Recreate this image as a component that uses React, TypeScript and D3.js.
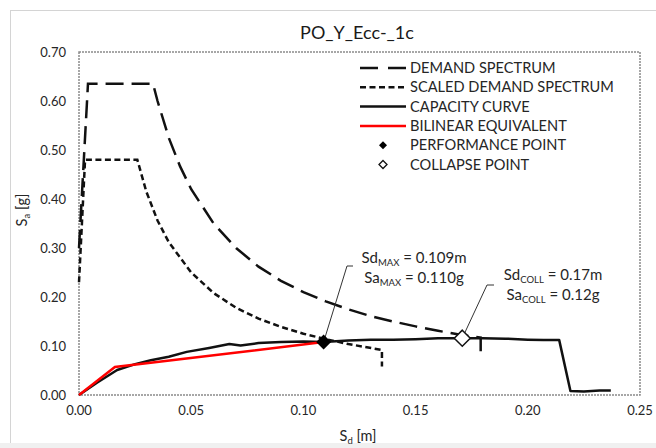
import React from 'react';
import * as d3 from 'd3';

// Values (Sd in m, Sa in g)
const demandSd = [0, 0.004, 0.033, 0.035, 0.04, 0.045, 0.05, 0.06, 0.07, 0.08, 0.09, 0.1, 0.11, 0.12, 0.13, 0.14, 0.15, 0.16, 0.17, 0.179, 0.179];
const demandSa = [0.3, 0.635, 0.635, 0.6, 0.525, 0.467, 0.42, 0.35, 0.3, 0.262, 0.233, 0.21, 0.191, 0.175, 0.161, 0.15, 0.14, 0.131, 0.123, 0.117, 0.078];

const scaledSd = [0, 0.0027, 0.026, 0.03, 0.035, 0.04, 0.05, 0.06, 0.07, 0.08, 0.09, 0.1, 0.11, 0.12, 0.135, 0.135];
const scaledSa = [0.23, 0.48, 0.48, 0.415, 0.356, 0.312, 0.25, 0.208, 0.178, 0.156, 0.139, 0.125, 0.114, 0.104, 0.092, 0.058];

const capacitySd = [0, 0.008, 0.017, 0.025, 0.032, 0.04, 0.048, 0.058, 0.067, 0.072, 0.08, 0.09, 0.1, 0.109, 0.12, 0.13, 0.14, 0.15, 0.16, 0.17, 0.18, 0.19, 0.2, 0.207, 0.214, 0.219, 0.225, 0.232, 0.237];
const capacitySa = [0, 0.025, 0.051, 0.063, 0.071, 0.078, 0.088, 0.096, 0.104, 0.101, 0.106, 0.108, 0.109, 0.108, 0.111, 0.113, 0.113, 0.114, 0.116, 0.116, 0.116, 0.115, 0.113, 0.112, 0.112, 0.008, 0.007, 0.009, 0.009];

const bilinearSd = [0, 0.016, 0.109];
const bilinearSa = [0, 0.057, 0.108];

const performancePoint = [0.109, 0.108];
const collapsePoint = [0.1708, 0.116];

const xTicks = [0, 0.05, 0.1, 0.15, 0.2, 0.25];
const yTicks = [0, 0.1, 0.2, 0.3, 0.4, 0.5, 0.6, 0.7];

const legendItems = [
  { label: 'DEMAND SPECTRUM', kind: 'long' },
  { label: 'SCALED DEMAND SPECTRUM', kind: 'short' },
  { label: 'CAPACITY CURVE', kind: 'solid' },
  { label: 'BILINEAR EQUIVALENT', kind: 'red' },
  { label: 'PERFORMANCE POINT', kind: 'filled' },
  { label: 'COLLAPSE POINT', kind: 'open' },
];

const W = 656;
const H = 448;
const FONT = 'Lato, "Open Sans", sans-serif';
const TXT = '#262626';

const zip = (xs: number[], ys: number[]) => xs.map((x, i) => [x, ys[i]] as [number, number]);

function diamond(cx: number, cy: number, r: number) {
  return `M${cx},${cy - r}L${cx + r},${cy}L${cx},${cy + r}L${cx - r},${cy}Z`;
}

export default function App() {
  const x = d3.scaleLinear().domain([0, 0.25]).range([79, 640]);
  const y = d3.scaleLinear().domain([0, 0.7]).range([395, 52]);
  const line = d3.line<[number, number]>().x(d => x(d[0])).y(d => y(d[1]));

  const pp = [x(performancePoint[0]), y(performancePoint[1])];
  const cp = [x(collapsePoint[0]), y(collapsePoint[1])];

  return (
    <div style={{ position: 'fixed', left: 0, top: 0 }}>
      <svg width={W} height={H} style={{ display: 'block', fontFamily: FONT }}>
        <rect width={W} height={H} fill="#fff" />
        <rect x={0} y={443} width={W} height={5} fill="#f0f0f0" />
        <line x1={10.5} y1={10} x2={10.5} y2={443} stroke="#d4d4d4" />
        <line x1={10} y1={10.5} x2={W} y2={10.5} stroke="#d4d4d4" />

        <text x={357} y={39} textAnchor="middle" fontSize={18} fill="#1a1a1a">PO_Y_Ecc-_1c</text>

        {/* plot border */}
        <rect x={x(0)} y={y(0.7)} width={x(0.25) - x(0)} height={y(0) - y(0.7)}
          fill="none" stroke="#8a8a8a" strokeWidth={1.5} strokeDasharray="2 1" />

        {yTicks.map(t => (
          <text key={t} x={66} y={y(t) + 4.5} textAnchor="end" fontSize={13} fill={TXT}>{t.toFixed(2)}</text>
        ))}
        {xTicks.map(t => (
          <text key={t} x={x(t)} y={415} textAnchor="middle" fontSize={13} fill={TXT}>{t.toFixed(2)}</text>
        ))}

        <text x={358} y={441} textAnchor="middle" fontSize={14.5} fill={TXT}>
          S<tspan fontSize={9.5} dy={3}>d</tspan><tspan dy={-3}> [m]</tspan>
        </text>
        <text transform="translate(27,210) rotate(-90)" textAnchor="middle" fontSize={14.5} fill={TXT}>
          S<tspan fontSize={9.5} dy={3}>a</tspan><tspan dy={-3}> [g]</tspan>
        </text>

        {/* series */}
        <path d={line(zip(demandSd, demandSa)) || ''} fill="none" stroke="#111" strokeWidth={2.5} strokeDasharray="18 8" />
        <path d={line(zip(scaledSd, scaledSa)) || ''} fill="none" stroke="#111" strokeWidth={2.5} strokeDasharray="6 3.5" />
        <path d={line(zip(capacitySd, capacitySa)) || ''} fill="none" stroke="#111" strokeWidth={2.5} strokeLinejoin="round" />
        <path d={line(zip(bilinearSd, bilinearSa)) || ''} fill="none" stroke="#ff0000" strokeWidth={2.5} />

        {/* annotations */}
        <polyline points={`${pp[0]},${pp[1]} 347,266 353,266`} fill="none" stroke="#333" strokeWidth={1} />
        <polyline points={`${cp[0]},${cp[1]} 487,285 494,285`} fill="none" stroke="#333" strokeWidth={1} />

        <path d={diamond(pp[0], pp[1], 7.5)} fill="#000" />
        <path d={diamond(cp[0], cp[1], 8)} fill="#fff" stroke="#111" strokeWidth={1.5} />

        <text x={414} y={263} textAnchor="middle" fontSize={15} fill={TXT}>
          Sd<tspan fontSize={9.5} dy={3}>MAX</tspan><tspan dy={-3}> = 0.109m</tspan>
        </text>
        <text x={414} y={283} textAnchor="middle" fontSize={15} fill={TXT}>
          Sa<tspan fontSize={9.5} dy={3}>MAX</tspan><tspan dy={-3}> = 0.110g</tspan>
        </text>
        <text x={553} y={280} textAnchor="middle" fontSize={15} fill={TXT}>
          Sd<tspan fontSize={9.5} dy={3}>COLL</tspan><tspan dy={-3}> = 0.17m</tspan>
        </text>
        <text x={553} y={300} textAnchor="middle" fontSize={15} fill={TXT}>
          Sa<tspan fontSize={9.5} dy={3}>COLL</tspan><tspan dy={-3}> = 0.12g</tspan>
        </text>

        {/* legend */}
        {legendItems.map((it, i) => {
          const ly = 68 + i * 19.3;
          let sym: React.ReactNode = null;
          if (it.kind === 'long') sym = <line x1={360} x2={406} y1={ly} y2={ly} stroke="#111" strokeWidth={2.5} strokeDasharray="18 10" />;
          if (it.kind === 'short') sym = <line x1={360} x2={406} y1={ly} y2={ly} stroke="#111" strokeWidth={2.5} strokeDasharray="6 3.5" />;
          if (it.kind === 'solid') sym = <line x1={360} x2={406} y1={ly} y2={ly} stroke="#111" strokeWidth={2.5} />;
          if (it.kind === 'red') sym = <line x1={360} x2={406} y1={ly} y2={ly} stroke="#ff0000" strokeWidth={2.5} />;
          if (it.kind === 'filled') sym = <path d={diamond(383, ly, 4)} fill="#000" />;
          if (it.kind === 'open') sym = <path d={diamond(383, ly, 4)} fill="#fff" stroke="#111" strokeWidth={1.3} />;
          return (
            <g key={it.label}>
              {sym}
              <text x={410} y={ly + 5} fontSize={14.6} fill={TXT}>{it.label}</text>
            </g>
          );
        })}
      </svg>
    </div>
  );
}
